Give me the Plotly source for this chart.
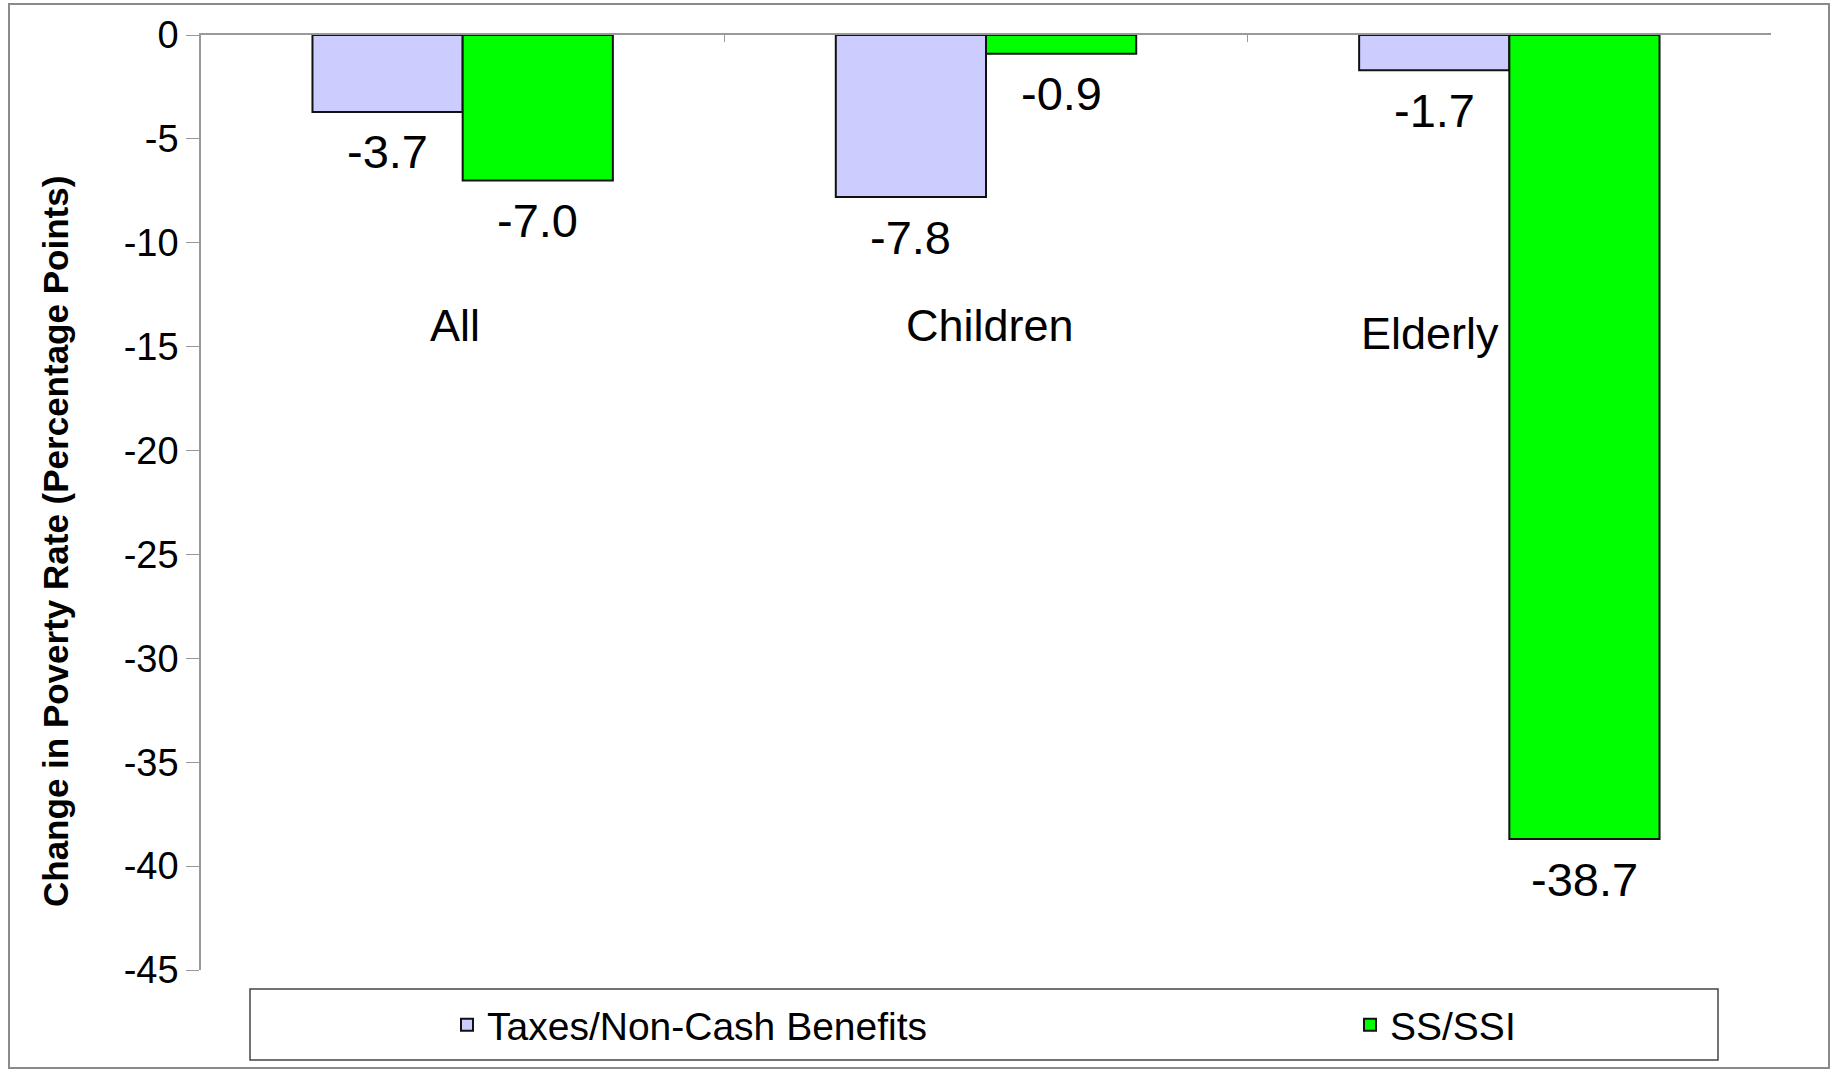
import plotly.graph_objects as go

categories = ["All", "Children", "Elderly"]
taxes_noncash = [-3.7, -7.8, -1.7]
ss_ssi = [-7.0, -0.9, -38.7]
series_names = ["Taxes/Non-Cash Benefits", "SS/SSI"]
y_tick_values = [0, -5, -10, -15, -20, -25, -30, -35, -40, -45]
y_title = "Change in Poverty Rate (Percentage Points)"

FONT = "Liberation Sans, Arial, sans-serif"
W, H = 1835, 1071
L, R, T, B = 201, 64, 35, 101
pw, ph = W - L - R, H - T - B
BARGAP = 0.426


def px_x(p):
    return (p - L) / pw


def px_y(p):
    return (H - B - p) / ph


fig = go.Figure()
fig.add_trace(go.Bar(
    name=series_names[0], x=categories, y=taxes_noncash,
    marker=dict(color="#CCCCFF", line=dict(color="#111111", width=2)),
    legend="legend",
))
fig.add_trace(go.Bar(
    name=series_names[1], x=categories, y=ss_ssi,
    marker=dict(color="#00FF00", line=dict(color="#111111", width=2)),
    legend="legend2",
))

# data labels below each bar end
half_bar = pw / len(categories) * (1 - BARGAP) / 4
for series, sign in ((taxes_noncash, -1), (ss_ssi, 1)):
    for c, v in zip(categories, series):
        fig.add_annotation(x=c, y=v, text=f"{v:.1f}", showarrow=False,
                           xshift=sign * half_bar, yshift=-40, yanchor="middle",
                           font=dict(family=FONT, size=47, color="black"))

# category labels placed inside plot like the original
shifts = {"All": -8, "Children": 4, "Elderly": -79}
for c in categories:
    fig.add_annotation(x=c, y=-14, text=c, showarrow=False, xshift=shifts[c],
                       yshift=-8 if c == "Elderly" else 0,
                       font=dict(family=FONT, size=45, color="black"))

# y-axis title (placed like the original, a bit below the plot centre)
fig.add_annotation(xref="paper", yref="paper", x=px_x(55), y=px_y(542),
                   text=f"<b>{y_title}</b>", textangle=-90, showarrow=False,
                   xanchor="center", yanchor="middle",
                   font=dict(family=FONT, size=35, color="black"))

# outer frame and legend box
fig.add_shape(type="rect", xref="paper", yref="paper",
              x0=px_x(9), x1=px_x(1829), y0=px_y(1068), y1=px_y(4),
              line=dict(color="#8a8a8a", width=2), layer="below")
fig.add_shape(type="rect", xref="paper", yref="paper",
              x0=px_x(250), x1=px_x(1718), y0=px_y(1060), y1=px_y(989),
              line=dict(color="#444444", width=1.5), layer="below")

leg_common = dict(orientation="h", xanchor="left", yanchor="middle",
                  y=px_y(1025), bgcolor="rgba(0,0,0,0)", borderwidth=0,
                  font=dict(family=FONT, size=39, color="black"))

fig.update_layout(
    width=W, height=H,
    margin=dict(l=L, r=R, t=T, b=B, autoexpand=False),
    paper_bgcolor="white", plot_bgcolor="white",
    barmode="group", bargap=BARGAP, bargroupgap=0,
    font=dict(family=FONT, color="black"),
    showlegend=True,
    legend=dict(x=px_x(447), **leg_common),
    legend2=dict(x=px_x(1350), **leg_common),
    xaxis=dict(type="category", side="top", showticklabels=False,
               showline=True, linecolor="#999999", linewidth=1.5,
               ticks="inside", tickson="boundaries", ticklen=7,
               tickcolor="#999999", showgrid=False, zeroline=False,
               fixedrange=True),
    yaxis=dict(range=[-45, 0], tickvals=y_tick_values,
               ticktext=[str(v) for v in y_tick_values],
               ticks="outside", ticklen=13, tickcolor="#999999",
               showline=True, linecolor="#999999", linewidth=1.5,
               showgrid=False, zeroline=False,
               tickfont=dict(family=FONT, size=38, color="black"),
               fixedrange=True),
)

fig.write_html("out.html", config={"displayModeBar": False},
               post_script="document.body.style.margin='0';document.body.style.overflow='hidden';")
